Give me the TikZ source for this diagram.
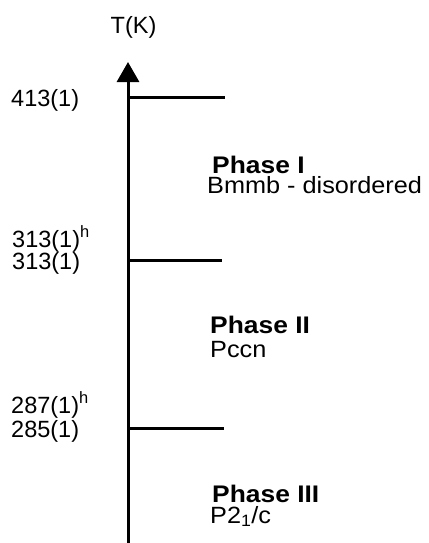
\documentclass[tikz,border=0pt]{standalone}
\usepackage{fontspec}
\setmainfont{Liberation Sans}
\usetikzlibrary{arrows.meta}
\newcommand{\widebold}[1]{\scalebox{1.1}[1]{#1}}
\newcommand{\widereg}[1]{\scalebox{1.075}[1]{#1}}
\tikzset{
  axisline/.style={line width=3pt},
  tickline/.style={line width=3pt},
  lbl/.style={anchor=base west, inner sep=0pt, font=\fontsize{23.5}{23.5}\selectfont},
  phase/.style={anchor=base west, inner sep=0pt, text depth=0pt, font=\fontsize{24}{24}\selectfont\bfseries},
  grp/.style={anchor=base west, inner sep=0pt, text height=16pt, font=\fontsize{23.5}{23.5}\selectfont},
}
\begin{document}
\begin{tikzpicture}[x=1pt,y=-1pt]
\useasboundingbox (0,0) rectangle (428,543);
\coordinate (bot) at (128,543);
\coordinate (top) at (128,62);
\draw[axisline,-{Triangle[length=20pt,width=22pt]}] (bot) -- (top);
\node[anchor=base,inner sep=0pt,font=\fontsize{23.5}{23.5}\selectfont] (tk) at (133.5,34) {T(K)};
\coordinate (t1a) at (128,97); \coordinate (t1b) at (225,97);
\coordinate (t2a) at (128,260); \coordinate (t2b) at (222,260);
\coordinate (t3a) at (128,428); \coordinate (t3b) at (224,428);
\draw[tickline] (t1a) -- (t1b);
\draw[tickline] (t2a) -- (t2b);
\draw[tickline] (t3a) -- (t3b);
\node[lbl] (l1) at (11,106) {413(1)};
\node[lbl] (l2) at (12,247) {313(1)$^{\mathrm{h}}$};
\node[lbl] (l3) at (12,269) {313(1)};
\node[lbl] (l4) at (11,413) {287(1)$^{\mathrm{h}}$};
\node[lbl] (l5) at (11,437) {285(1)};
\node[phase] (p1) at (212,173) {\widebold{Phase I}};
\node[grp] (g1) at (207,193) {\widereg{Bmmb - disordered}};
\node[phase] (p2) at (210,333) {\widebold{Phase II}};
\node[grp] (g2) at (210,357) {\widereg{Pccn}};
\node[phase] (p3) at (212,502) {\widebold{Phase III}};
\node[grp] (g3) at (210,523) {\widereg{P2\textsubscript{1}/c}};
\end{tikzpicture}
\end{document}
